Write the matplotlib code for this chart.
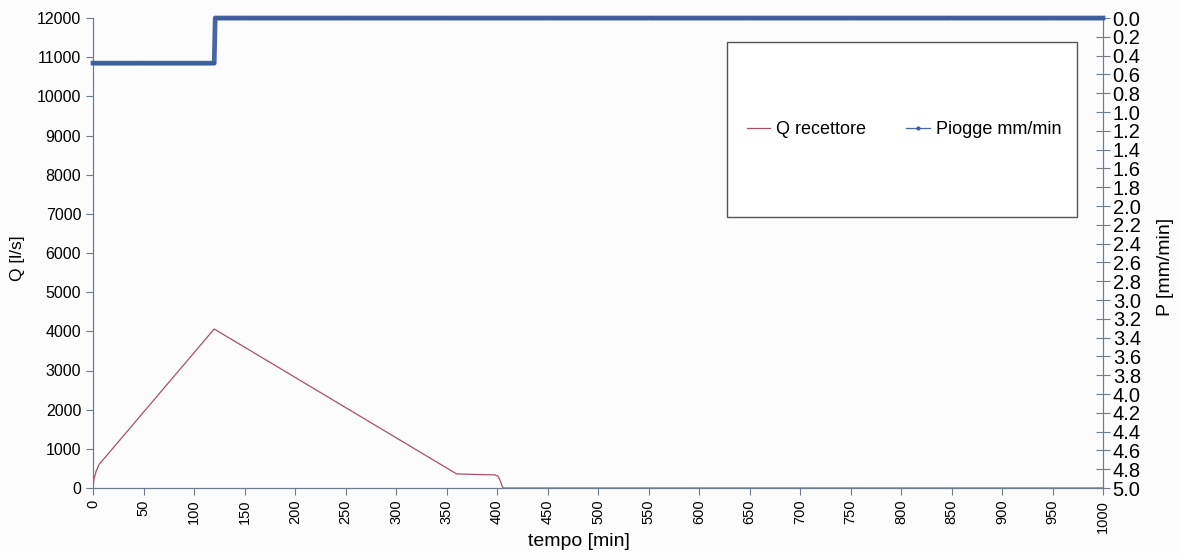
import numpy as np
import matplotlib
matplotlib.use("Agg")
import matplotlib.pyplot as plt
from matplotlib.patches import Rectangle

plt.rcParams['font.family'] = ['Liberation Sans', 'DejaVu Sans']

# portata al recettore [l/s] nei punti di rottura dell'idrogramma
q_time = [0, 1, 3, 6, 120, 360, 380, 398, 401, 403, 405, 406, 1000]
q_flow = [0, 230, 420, 600, 4060, 360, 345, 335, 300, 200, 60, 0, 0]

# ietogramma: intensita' costante per blocchi [mm/min]
rain_level = [0.48, 0.0]
rain_minutes = [120, 880]

x_ticks = list(range(0, 1001, 50))
q_ticks = list(range(0, 12001, 1000))
p_ticks = [round(v * 0.2, 1) for v in range(26)]

# pioggia minuto per minuto, come nella tabella di calcolo
rain_t = np.arange(0, sum(rain_minutes) + 1)
rain_p = np.append(np.repeat(rain_level, rain_minutes), rain_level[-1])
rain_p = np.where(rain_t <= rain_minutes[0], rain_level[0], rain_p)

fig = plt.figure(figsize=(11.8, 5.53), dpi=100)
fig.patch.set_facecolor("#fcfcfd")
ax = fig.add_axes([93 / 1180, 1 - 488 / 553, 1010 / 1180, 470 / 553])
ax.set_facecolor("#fcfcfd")

red = "#a8506a"
blue = "#4766a6"
axis_col = "#6d7c8a"

l1, = ax.plot(q_time, q_flow, color=red, lw=0.9, label="Q recettore", zorder=3)
ax.set_xlim(0, 1000)
ax.set_ylim(0, 12000)
ax.set_xticks(x_ticks)
ax.set_yticks(q_ticks)
ax.tick_params(axis="x", rotation=90, labelsize=10.5, direction="out",
               length=5, color=axis_col)
ax.tick_params(axis="y", labelsize=11.5, direction="out", length=5, color=axis_col)
ax.set_xlabel("tempo [min]", fontsize=14)
ax.xaxis.set_label_coords(0.481, -0.095)
ax.set_ylabel("Q [l/s]", fontsize=12.5)
ax.yaxis.set_label_coords(-0.067, 0.49)
for s in ["left", "bottom", "right"]:
    ax.spines[s].set_color(axis_col)
ax.spines["top"].set_visible(False)

ax2 = ax.twinx()
l2, = ax2.plot(rain_t, rain_p, color=blue, lw=3.4, marker="o", ms=2.4,
               markerfacecolor="#3d5c9a", markeredgewidth=0,
               label="Piogge mm/min", zorder=4, clip_on=False)
ax2.set_ylim(5.0, 0.0)
ax2.set_yticks(p_ticks)
ax2.set_yticklabels(["%.1f" % v for v in p_ticks])
ax2.tick_params(axis="y", labelsize=14.5, direction="inout", length=10,
                color=axis_col, pad=2)
ax2.set_ylabel("P [mm/min]", fontsize=14)
ax2.yaxis.set_label_coords(1.053, 0.47)
for s in ["left", "bottom", "right"]:
    ax2.spines[s].set_color(axis_col)
ax2.spines["top"].set_visible(False)

# riquadro della legenda
ax2.add_patch(Rectangle((0.628, 0.577), 0.346, 0.372, transform=ax2.transAxes,
                        facecolor="white", edgecolor="#555555", lw=1.0, zorder=5))
leg = ax2.legend([l1, l2], ["Q recettore", "Piogge mm/min"], ncol=2,
                 loc="center", bbox_to_anchor=(0.803, 0.763), frameon=False,
                 fontsize=13, handlelength=1.3, handletextpad=0.35,
                 columnspacing=2.2)
leg.set_zorder(6)
for h in leg.legend_handles:
    h.set_linewidth(0.9)
    h.set_markersize(3)

fig.savefig("out.png", dpi=100, facecolor=fig.get_facecolor())
